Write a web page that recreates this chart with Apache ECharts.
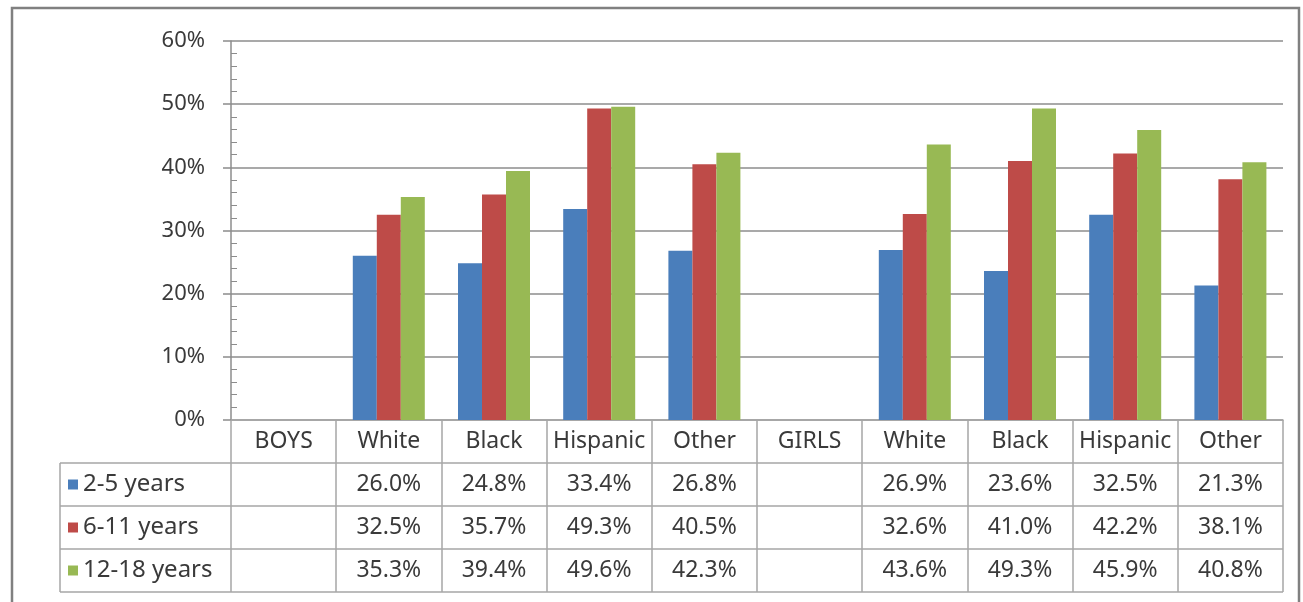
<!DOCTYPE html>
<html lang="en">
<head>
    <meta charset="UTF-8">
    <title>Bars by age group and race</title>
    <script src="https://cdn.jsdelivr.net/npm/echarts@6/dist/echarts.min.js"></script>
    <style>
        html, body { margin: 0; padding: 0; background: #fff; }
        #main { width: 1303px; height: 602px; }
    </style>
</head>
<body>
<div id="main"></div>
<script type="text/javascript">
    // data (percent)
    var categories = ['BOYS', 'White', 'Black', 'Hispanic', 'Other', 'GIRLS', 'White', 'Black', 'Hispanic', 'Other'];
    var seriesNames = ['2-5 years', '6-11 years', '12-18 years'];
    var age2to5 = [null, 26.0, 24.8, 33.4, 26.8, null, 26.9, 23.6, 32.5, 21.3];
    var age6to11 = [null, 32.5, 35.7, 49.3, 40.5, null, 32.6, 41.0, 42.2, 38.1];
    var age12to18 = [null, 35.3, 39.4, 49.6, 42.3, null, 43.6, 49.3, 45.9, 40.8];
    var colors = ['#4a7ebb', '#be4b48', '#98b954'];

    var allSeries = [age2to5, age6to11, age12to18];

    // layout
    var plotLeft = 231, plotRight = 1283, plotTop = 41, plotBottom = 420;
    var rowH = 43, tableLeft = 60;
    var font = 'Noto Sans';
    var textColor = '#3a3a3a';
    var lineColor = '#a6a6a6';
    var gridColor = '#8c8c8c';

    function pct(v) {
        return v == null ? ' ' : v.toFixed(1) + '%';
    }

    var myChart = echarts.init(document.getElementById('main'));

    // table lines
    var graphics = [];
    for (var k = 1; k <= 4; k++) {
        graphics.push({
            type: 'line',
            shape: { x1: tableLeft, y1: plotBottom + rowH * k, x2: plotRight, y2: plotBottom + rowH * k },
            style: { stroke: lineColor, lineWidth: 1.5 }
        });
    }
    graphics.push({
        type: 'line',
        shape: { x1: tableLeft, y1: plotBottom + rowH, x2: tableLeft, y2: plotBottom + rowH * 4 },
        style: { stroke: lineColor, lineWidth: 1.5 }
    });
    // outer frame
    graphics.push({
        type: 'rect',
        shape: { x: 12, y: 8, width: 1287, height: 600 },
        style: { fill: null, stroke: '#808080', lineWidth: 2.5 }
    });

    var option = {
        animation: false,
        color: colors,
        grid: {
            left: plotLeft,
            right: 1303 - plotRight,
            top: plotTop,
            bottom: 602 - plotBottom
        },
        legend: {
            orient: 'vertical',
            left: tableLeft + 8,
            top: plotBottom + rowH,
            padding: 0,
            itemGap: 0,
            itemWidth: 10,
            itemHeight: 10,
            icon: 'rect',
            selectedMode: false,
            data: seriesNames,
            textStyle: { fontFamily: font, fontSize: 24, color: textColor, lineHeight: rowH }
        },
        xAxis: {
            type: 'category',
            data: categories,
            axisLine: { lineStyle: { color: lineColor, width: 1.5 } },
            axisTick: { show: true, interval: 0, length: rowH * 4, lineStyle: { color: lineColor, width: 1.5 } },
            axisLabel: {
                interval: 0,
                margin: 0,
                fontFamily: font,
                fontSize: 23,
                color: textColor,
                lineHeight: rowH,
                verticalAlign: 'top',
                formatter: function (value, index) {
                    return [categories[index], pct(age2to5[index]), pct(age6to11[index]), pct(age12to18[index])].join('\n');
                }
            }
        },
        yAxis: [{
            type: 'value',
            min: 0,
            max: 60,
            interval: 10,
            axisLine: { show: true, lineStyle: { color: gridColor, width: 1.5 } },
            axisTick: { show: true, length: 8, lineStyle: { color: gridColor, width: 1.5 } },
            axisLabel: { margin: 26, fontFamily: font, fontSize: 22, color: textColor, formatter: '{value}%' },
            splitLine: { lineStyle: { color: gridColor, width: 1.5 } }
        }, {
            // second copy of the scale only for the small inside ticks
            type: 'value',
            position: 'right',
            offset: -(plotRight - plotLeft),
            min: 0,
            max: 60,
            interval: 10,
            axisLine: { show: false },
            axisTick: { show: false, inside: false },
            axisLabel: { show: false },
            splitLine: { show: false },
            minorTick: { show: true, splitNumber: 5, length: 6, lineStyle: { color: gridColor } }
        }],
        graphic: graphics,
        series: allSeries.map(function (vals, i) {
            return {
                name: seriesNames[i],
                type: 'bar',
                barWidth: 24,
                barGap: '0%',
                data: vals,
                itemStyle: { color: colors[i] }
            };
        })
    };
    myChart.setOption(option);
</script>
</body>
</html>
